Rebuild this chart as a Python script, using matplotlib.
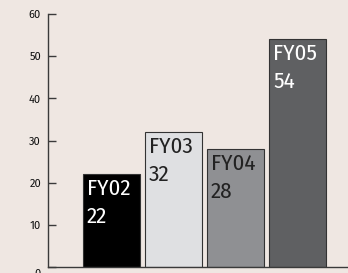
import matplotlib
matplotlib.use("Agg")
import matplotlib.pyplot as plt
import matplotlib.transforms as mtransforms

years = ["FY02", "FY03", "FY04", "FY05"]
values = [22, 32, 28, 54]
bar_colors = ["#000000", "#dfe0e2", "#8f9093", "#5f6062"]
text_colors = ["#ffffff", "#222222", "#222222", "#ffffff"]
yticks = [0, 10, 20, 30, 40, 50, 60]

label_fonts = ["Fira Sans Condensed", "Liberation Sans Narrow", "DejaVu Sans"]
tick_fonts = ["Fira Sans", "Open Sans", "DejaVu Sans"]

bg = "#efe7e2"
fig = plt.figure(figsize=(3.48, 2.73), dpi=100, facecolor=bg)
ax = fig.add_axes([48 / 348, 6 / 273, 300 / 348, 253 / 273], facecolor=bg)

x = list(range(len(years)))
ax.bar(x, values, width=0.92, color=bar_colors, edgecolor="#333333", linewidth=0.8)

for xi, v, name, tc in zip(x, values, years, text_colors):
    off = mtransforms.offset_copy(ax.transData, fig=fig, x=4, y=-4, units="dots")
    ax.text(xi - 0.46, v, f"{name}\n{v}", transform=off, ha="left", va="top",
            color=tc, fontsize=16.5, family=label_fonts, weight="normal",
            linespacing=1.4)

ax.set_xlim(-1.024, 3.815)
ax.set_ylim(0, 60)
ax.set_yticks(yticks)
ax.set_xticks([])
for s in ["top", "right"]:
    ax.spines[s].set_visible(False)
for s in ["left", "bottom"]:
    ax.spines[s].set_color("#3a3a3a")
    ax.spines[s].set_linewidth(1.0)
ax.tick_params(axis="y", direction="in", length=6, width=1, color="#3a3a3a",
               labelsize=8, pad=5, labelcolor="#111111")
for lab in ax.get_yticklabels():
    lab.set_family(tick_fonts)
# the zero label sits a little below the baseline in the original
ax.get_yticklabels()[0].set_transform(
    ax.get_yticklabels()[0].get_transform()
    + mtransforms.ScaledTranslation(0, -6 / 100, fig.dpi_scale_trans))

fig.savefig("out.png", dpi=100, facecolor=bg)
